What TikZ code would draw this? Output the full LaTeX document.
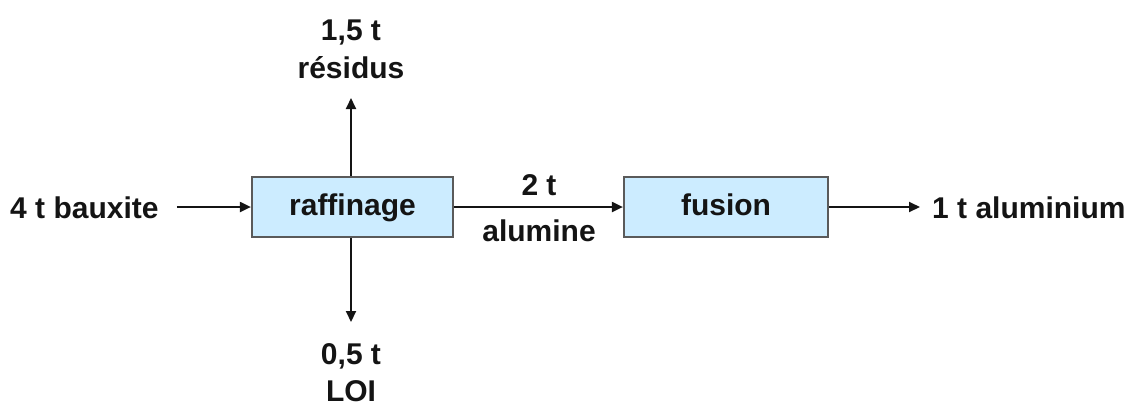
\documentclass[tikz,border=0pt]{standalone}
\usepackage{fontspec}
\setmainfont{Liberation Sans}
\usetikzlibrary{arrows.meta,calc}

\definecolor{boxfill}{RGB}{204,236,255}
\definecolor{boxline}{RGB}{90,90,90}
\definecolor{ink}{RGB}{20,20,20}

\tikzset{
  lbl/.style={font=\fontsize{30bp}{38bp}\selectfont\bfseries, text=ink, inner sep=0pt},
  stage/.style={lbl, draw=boxline, line width=2.2bp, fill=boxfill,
    minimum height=60bp, text height=23bp, text depth=6bp},
  flow/.style={draw=ink, line width=2bp, -{Triangle[length=11bp,width=10bp]}}
}

\begin{document}
\begin{tikzpicture}[x=1bp, y=-1bp]
  \useasboundingbox (0,0) rectangle (1130,408);

  % process stages
  \node[stage, minimum width=201bp] (raf) at (352.5,207) {raffinage};
  \node[stage, minimum width=204bp] (fus) at (726,207) {fusion};

  % input and output
  \node[lbl, anchor=base west] (bx) at (10,218) {4 t bauxite};
  \node[lbl, anchor=base west] (al) at (932,218) {1 t aluminium};

  % by-products of refining
  \node[lbl, anchor=base] (r1) at (351,40) {1,5 t};
  \node[lbl, anchor=base] (r2) at (351,78) {résidus};
  \node[lbl, anchor=base] (l1) at (351,364) {0,5 t};
  \node[lbl, anchor=base] (l2) at (351,401) {LOI};

  % intermediate product
  \node[lbl, anchor=base] (m1) at (539,195) {2 t};
  \node[lbl, anchor=base] (m2) at (539,241) {alumine};

  % material flows
  \draw[flow] ($(bx.east |- raf.west)+(18,0)$) -- (raf.west);
  \draw[flow] (raf.east) -- (fus.west);
  \draw[flow] (fus.east) -- ($(al.west |- fus.east)+(-12,0)$);
  \draw[flow] (r2.base |- raf.north) -- ([yshift=-20bp]r2.base);
  \draw[flow] (l1.base |- raf.south) -- ([yshift=42bp]l1.base);
\end{tikzpicture}
\end{document}
